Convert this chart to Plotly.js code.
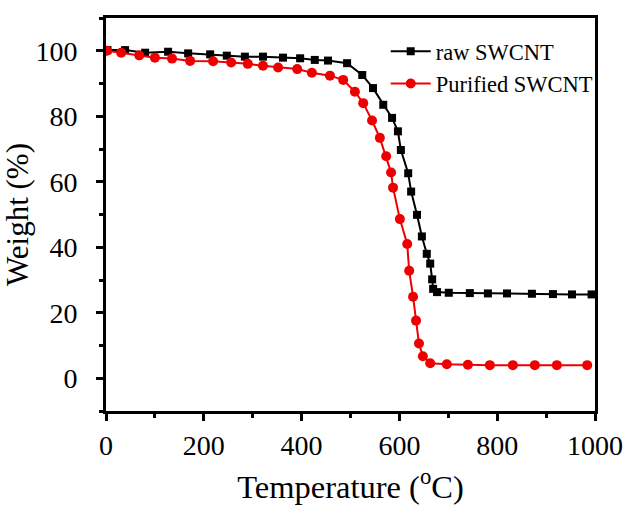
<!DOCTYPE html>
<html>
<head>
<meta charset="utf-8">
<script src="https://cdn.plot.ly/plotly-3.0.1.min.js"></script>
<style>html,body{margin:0;padding:0;background:#fff;}#chart{width:627px;height:507px;}</style>
</head>
<body>
<div id="chart"></div>
<script>
const rawTemp = [3, 39, 80, 127, 168, 213, 247, 284, 321, 362, 397, 427, 454, 493, 524, 546, 567, 585, 597, 603, 618, 624, 636, 646, 656, 663, 667, 669, 677, 701, 744, 781, 820, 871, 914, 953, 993];
const rawWeight = [100.2, 100.2, 99.4, 99.7, 99.2, 98.9, 98.5, 98.2, 98.2, 97.9, 97.7, 97.2, 97.0, 96.2, 92.6, 88.6, 83.5, 79.5, 75.4, 69.7, 62.6, 57.0, 49.9, 43.3, 38.0, 35.0, 30.2, 27.3, 26.3, 26.1, 26.0, 25.9, 25.9, 25.8, 25.7, 25.6, 25.6];
const purTemp = [2, 31, 68, 100, 135, 172, 219, 256, 290, 321, 352, 391, 421, 458, 485, 509, 526, 544, 560, 573, 583, 587, 601, 616, 620, 628, 634, 640, 648, 663, 697, 740, 785, 832, 877, 922, 984];
const purWeight = [100.0, 99.4, 98.6, 97.9, 97.6, 96.9, 96.8, 96.4, 96.0, 95.4, 94.9, 94.4, 93.3, 92.4, 91.1, 87.5, 84.0, 78.7, 73.4, 67.8, 62.8, 58.2, 48.6, 41.0, 32.8, 24.9, 17.6, 10.6, 6.7, 4.6, 4.3, 4.1, 4.0, 4.0, 4.0, 4.0, 4.0];
const seriesNames = ['raw SWCNT', 'Purified SWCNT'];
const xTicks = [0, 200, 400, 600, 800, 1000];
const yTicks = [0, 20, 40, 60, 80, 100];

const font = 'Liberation Serif, Times New Roman, serif';
const traces = [
  {x: rawTemp, y: rawWeight, name: seriesNames[0], mode: 'lines+markers', type: 'scatter',
   line: {color: '#000000', width: 2}, marker: {symbol: 'square', size: 8, color: '#000000'}},
  {x: purTemp, y: purWeight, name: seriesNames[1], mode: 'lines+markers', type: 'scatter',
   line: {color: '#ee0000', width: 2}, marker: {symbol: 'circle', size: 10, color: '#ee0000'}}
];
const axisCommon = {
  showline: true, linecolor: '#000', linewidth: 3, mirror: true,
  ticks: 'outside', ticklen: 7, tickwidth: 3, tickcolor: '#000',
  showgrid: false, zeroline: false, automargin: false,
  tickfont: {family: font, size: 28, color: '#000'}
};
const layout = {
  width: 627, height: 507,
  margin: {l: 106, r: 32, t: 18, b: 96},
  paper_bgcolor: '#fff', plot_bgcolor: '#fff',
  font: {family: font, color: '#000'},
  showlegend: true,
  legend: {x: 0.572, y: 0.969, xanchor: 'left', yanchor: 'top', bgcolor: 'rgba(0,0,0,0)',
           font: {family: font, size: 22.5, color: '#000'}, tracegroupgap: 0, itemwidth: 40},
  xaxis: Object.assign({}, axisCommon, {
    range: [0, 1000], tickvals: xTicks, ticktext: xTicks.map(String),
    ticklabelstandoff: 0,
    minor: {dtick: 100, tick0: 0, ticks: 'outside', ticklen: 4, tickwidth: 3, tickcolor: '#000'},
    title: {text: 'Temperature (<sup>o</sup>C)', font: {family: font, size: 32.5, color: '#000'}, standoff: 16}
  }),
  yaxis: Object.assign({}, axisCommon, {
    range: [-10, 110], tickvals: yTicks, ticktext: yTicks.map(String),
    ticklabelstandoff: 13,
    minor: {dtick: 10, tick0: 0, ticks: 'outside', ticklen: 4, tickwidth: 3, tickcolor: '#000'},
    title: {text: 'Weight (%)', font: {family: font, size: 31, color: '#000'}, standoff: 2}
  })
};
Plotly.newPlot('chart', traces, layout, {displayModeBar: false, staticPlot: true});
</script>
</body>
</html>
